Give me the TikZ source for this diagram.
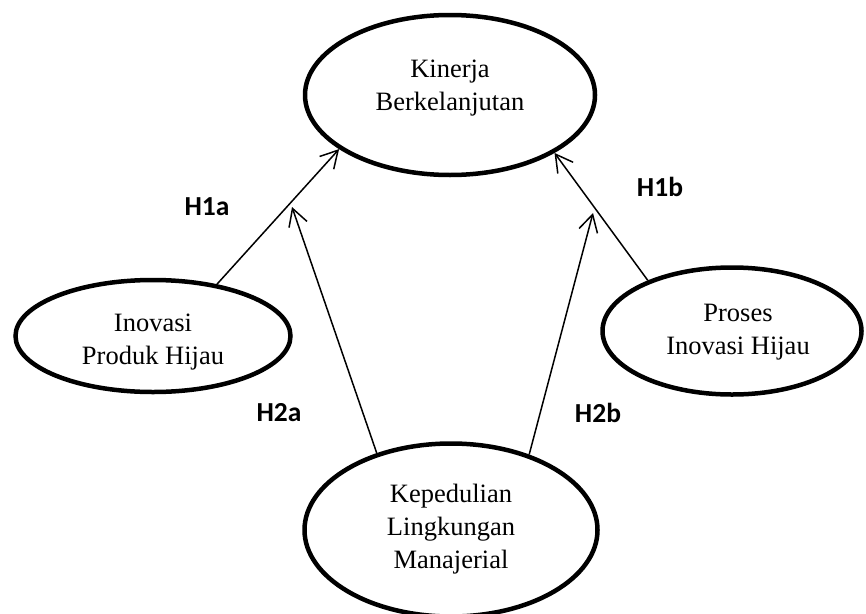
\documentclass[tikz,border=0pt]{standalone}
\usepackage{fontspec}
\setmainfont{Liberation Serif}
\newfontfamily\hfont{Carlito}
\usetikzlibrary{shapes.geometric,arrows.meta}
\begin{document}
\begin{tikzpicture}[x=1pt,y=-1pt,
  var/.style={ellipse, draw, line width=4.5pt, inner sep=0pt},
  lbl/.style={align=center, font=\fontsize{26.5}{33}\selectfont, inner sep=0pt},
  hyp/.style={font=\hfont\bfseries\fontsize{27.5}{30}\selectfont, inner sep=0pt},
  link/.style={line width=1.5pt, -{Straight Barb[length=17pt,width=19pt,line width=1.5pt]}}
]
\useasboundingbox (0,0) rectangle (866,613);
\fill[white] (0,0) rectangle (866,613);
% ellipses
\node[var, minimum width=290pt, minimum height=160pt] (kb) at (450,95) {};
\node[var, minimum width=275pt, minimum height=112pt] (iph) at (153,336) {};
\node[var, minimum width=259pt, minimum height=127pt] (pih) at (732,331) {};
\node[var, minimum width=293pt, minimum height=173pt] (klm) at (451,530) {};
% texts
\node[lbl] (tkb) at (450,88) {Kinerja\\Berkelanjutan};
\node[lbl] (tiph) at (153,342) {Inovasi\\Produk Hijau};
\node[lbl] (tpih) at (738,332) {Proses\\Inovasi Hijau};
\node[lbl] (tklm) at (451,529) {Kepedulian\\Lingkungan\\Manajerial};
% free ends of the moderating arrows
\coordinate (h2aend) at (292,207);
\coordinate (h2bend) at (593,213);
% connectors
\draw[link] (iph.39) -- (kb.206);
\draw[link] (pih.149.5) -- (kb.331.7);
\draw[link] (klm.134) -- (h2aend);
\draw[link] (klm.44) -- (h2bend);
% hypothesis labels
\node[hyp] (h1a) at (207,207) {H1a};
\node[hyp] (h1b) at (660,187) {H1b};
\node[hyp] (h2a) at (279,413) {H2a};
\node[hyp] (h2b) at (598,413) {H2b};
\end{tikzpicture}
\end{document}
